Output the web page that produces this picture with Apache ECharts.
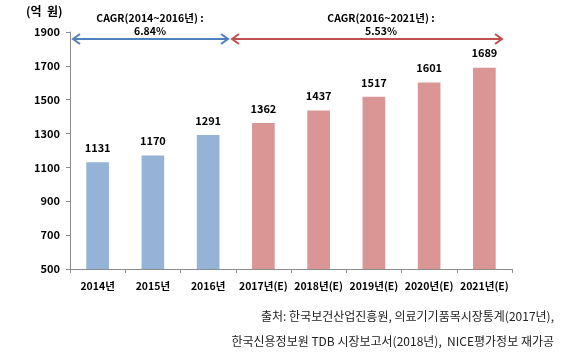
<!DOCTYPE html>
<html><head><meta charset="utf-8">
<script src="https://cdn.jsdelivr.net/npm/echarts@6/dist/echarts.min.js"></script>
<style>html,body{margin:0;padding:0;background:#fff}#c{width:566px;height:358px}</style>
</head><body><div id="c"></div>
<script>
const categories = ['2014년','2015년','2016년','2017년(E)','2018년(E)','2019년(E)','2020년(E)','2021년(E)'];
const values = [1131,1170,1291,1362,1437,1517,1601,1689];
const actualCount = 3;
const unitLabel = '(억  원)';
const cagr1 = ['CAGR(2014~2016년) :','6.84%'];
const cagr2 = ['CAGR(2016~2021년) :','5.53%'];
const sourceLines = ['출처: 한국보건산업진흥원, 의료기기품목시장통계(2017년),','한국신용정보원 TDB 시장보고서(2018년),  NICE평가정보 재가공'];

const FONT = '"Noto Sans CJK KR", "Noto Sans", sans-serif';
const BLUE = '#95B3D7', RED = '#D99694';
const chart = echarts.init(document.getElementById('c'));
chart.setOption({
  animation:false,
  grid:{left:70,right:54,top:32,bottom:89},
  xAxis:{type:'category',data:categories,
    axisLine:{lineStyle:{color:'#8c8c8c'}},
    axisTick:{show:true,length:4,lineStyle:{color:'#8c8c8c'}},
    axisLabel:{interval:0,color:'#000',fontFamily:FONT,fontWeight:'bold',fontSize:10.5,margin:12}},
  yAxis:{type:'value',min:500,max:1900,interval:200,
    splitLine:{show:false},
    axisLine:{show:true,lineStyle:{color:'#8c8c8c'}},
    axisTick:{show:true,length:4,lineStyle:{color:'#8c8c8c'}},
    axisLabel:{formatter:v=>String(v),color:'#000',fontFamily:FONT,fontWeight:'bold',fontSize:11,margin:10}},
  series:[{type:'bar',barWidth:'41%',
    data:values.map((v,i)=>({value:v,itemStyle:{color:i<actualCount?BLUE:RED}})),
    label:{show:true,position:'top',distance:9,color:'#000',fontFamily:FONT,fontWeight:'bold',fontSize:11}}],
  graphic:[
    {type:'text',left:26,top:5,style:{text:unitLabel,font:'bold 12px '+FONT,fill:'#000'}},
    {type:'text',x:150,y:12,style:{text:cagr1[0]+'\n'+cagr1[1],font:'bold 10.5px '+FONT,fill:'#000',align:'center',lineHeight:13}},
    {type:'text',x:381,y:12,style:{text:cagr2[0]+'\n'+cagr2[1],font:'bold 10.5px '+FONT,fill:'#000',align:'center',lineHeight:13}},
    {type:'line',shape:{x1:73,y1:39,x2:228,y2:39},style:{stroke:'#4F81BD',lineWidth:2}},
    {type:'polyline',shape:{points:[[80,34],[73,39],[80,44]]},style:{stroke:'#4F81BD',lineWidth:2,fill:null}},
    {type:'polyline',shape:{points:[[221,34],[228,39],[221,44]]},style:{stroke:'#4F81BD',lineWidth:2,fill:null}},
    {type:'line',shape:{x1:232,y1:39,x2:502,y2:39},style:{stroke:'#C0504D',lineWidth:2}},
    {type:'polyline',shape:{points:[[239,34],[232,39],[239,44]]},style:{stroke:'#C0504D',lineWidth:2,fill:null}},
    {type:'polyline',shape:{points:[[495,34],[502,39],[495,44]]},style:{stroke:'#C0504D',lineWidth:2,fill:null}},
    {type:'text',right:12,top:310,style:{text:sourceLines[0],font:'12px '+FONT,fill:'#222',align:'right'}},
    {type:'text',right:12,top:335,style:{text:sourceLines[1],font:'12px '+FONT,fill:'#222',align:'right'}}
  ]
});
</script></body></html>
